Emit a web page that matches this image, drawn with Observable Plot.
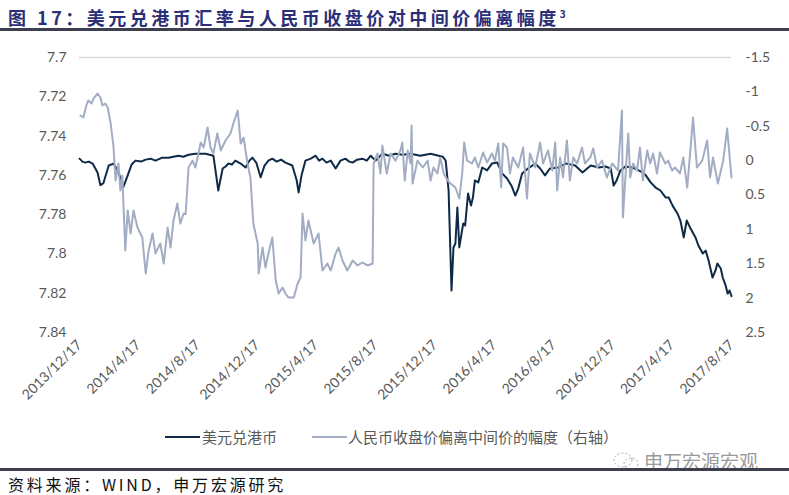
<!DOCTYPE html>
<html><head><meta charset="utf-8">
<script src="https://cdn.jsdelivr.net/npm/d3@7"></script>
<script src="https://cdn.jsdelivr.net/npm/@observablehq/plot@0.6"></script>
<style>
html,body{margin:0;padding:0;background:#fff;}
#wrap{position:relative;width:789px;height:495px;overflow:hidden;font-family:"Noto Sans CJK SC",sans-serif;}
#title{position:absolute;left:8px;top:2px;font-size:18px;line-height:24px;font-weight:bold;color:#2b2f78;letter-spacing:3.5px;white-space:nowrap;}
#title sup{font-size:10px;letter-spacing:0;}
.rule{position:absolute;left:0;width:789px;background:#3d3f4f;}
#chart{position:absolute;left:0;top:35px;}
#legend{position:absolute;top:426px;left:0;width:789px;height:22px;font-size:15px;line-height:22px;color:#595959;}
.sw{position:absolute;top:10px;height:2px;width:35px;}
.lt{position:absolute;top:0;white-space:nowrap;}
#wm{position:absolute;left:612px;top:450px;font-size:19px;line-height:22px;color:#9a9a9a;white-space:nowrap;}
#src{position:absolute;left:8px;top:474px;font-size:16px;line-height:20px;color:#111;letter-spacing:2.8px;white-space:nowrap;}
</style></head>
<body><div id="wrap">
<div id="title">图 17：美元兑港币汇率与人民币收盘价对中间价偏离幅度<sup>3</sup></div>
<div class="rule" style="top:28px;height:3px;"></div>
<div id="chart"></div>
<div id="legend">
  <div class="sw" style="left:165px;background:#0e2a47;"></div><div class="lt" style="left:202px;">美元兑港币</div>
  <div class="sw" style="left:312px;background:#a2acc2;"></div><div class="lt" style="left:348px;">人民币收盘价偏离中间价的幅度（右轴）</div>
</div>
<div id="wm"><svg width="28" height="22" style="vertical-align:-3px;margin-right:4px"><ellipse cx="11" cy="10" rx="9" ry="7" fill="none" stroke="#aaa" stroke-dasharray="2 2"/><ellipse cx="19" cy="14" rx="7" ry="6" fill="none" stroke="#aaa" stroke-dasharray="2 2"/></svg>申万宏源宏观</div>
<div class="rule" style="top:468px;height:3px;"></div>
<div id="src">资料来源：WIND，申万宏源研究</div>
</div>
<script>
// 美元兑港币 (left axis)
const hkd = [
["2013-12-17",7.7515],["2013-12-23",7.7530],["2013-12-29",7.7535],["2014-01-05",7.7530],["2014-01-13",7.754],["2014-01-23",7.7585],["2014-01-29",7.765],["2014-02-04",7.764],
["2014-02-15",7.755],["2014-02-25",7.754],["2014-03-07",7.7585],["2014-03-17",7.766],["2014-03-26",7.760],["2014-04-03",7.7545],["2014-04-11",7.7525],
["2014-04-22",7.7530],["2014-05-02",7.752],["2014-05-12",7.7515],["2014-05-22",7.7525],["2014-06-05",7.751],["2014-06-18",7.751],["2014-06-28",7.7505],["2014-07-08",7.750],["2014-07-18",7.7505],["2014-07-29",7.7495],
["2014-08-12",7.749],["2014-09-02",7.749],["2014-09-18",7.750],["2014-09-28",7.7677],["2014-10-07",7.7565],["2014-10-13",7.7555],["2014-10-19",7.754],["2014-10-26",7.7545],
["2014-11-02",7.7525],["2014-11-13",7.754],["2014-11-23",7.756],["2014-12-01",7.7525],["2014-12-07",7.751],["2014-12-15",7.7535],["2014-12-24",7.761],
["2015-01-01",7.755],["2015-01-09",7.7525],["2015-01-17",7.7515],["2015-01-26",7.7530],["2015-02-04",7.7520],["2015-02-13",7.7535],["2015-02-27",7.755],["2015-03-08",7.7625],["2015-03-12",7.7687],
["2015-03-18",7.760],["2015-03-26",7.7525],["2015-04-06",7.7515],["2015-04-16",7.750],["2015-04-23",7.7525],["2015-04-30",7.7515],["2015-05-08",7.7535],["2015-05-17",7.7525],["2015-05-27",7.7565],
["2015-06-06",7.7525],["2015-06-16",7.7515],["2015-06-24",7.7530],["2015-07-01",7.7535],["2015-07-10",7.7520],["2015-07-21",7.7515],["2015-07-30",7.7525],["2015-08-07",7.750],["2015-08-17",7.7525],
["2015-08-31",7.749],["2015-09-14",7.7500],["2015-09-27",7.749],["2015-10-12",7.7495],["2015-10-28",7.749],["2015-11-17",7.750],["2015-12-08",7.749],["2016-01-02",7.7505],
["2016-01-08",7.7525],["2016-01-14",7.7677],["2016-01-20",7.8186],["2016-01-24",7.7967],["2016-01-28",7.7947],["2016-02-01",7.7764],
["2016-02-05",7.7967],["2016-02-09",7.7906],["2016-02-13",7.7845],["2016-02-17",7.7855],["2016-02-23",7.7692],["2016-02-29",7.7754],
["2016-03-04",7.7713],["2016-03-08",7.7626],["2016-03-15",7.7636],["2016-03-23",7.756],["2016-04-02",7.7575],["2016-04-12",7.754],
["2016-04-23",7.7535],["2016-05-03",7.759],["2016-05-13",7.7616],["2016-05-23",7.7657],["2016-05-30",7.7703],["2016-06-05",7.7667],
["2016-06-13",7.759],["2016-06-25",7.7565],["2016-07-10",7.754],["2016-07-20",7.7565],["2016-07-30",7.760],["2016-08-09",7.7565],
["2016-08-26",7.756],["2016-09-11",7.754],["2016-09-30",7.755],["2016-10-15",7.7585],["2016-11-01",7.755],["2016-11-17",7.756],
["2016-12-01",7.7555],["2016-12-12",7.7565],["2016-12-18",7.7652],["2016-12-24",7.7626],["2017-01-01",7.7575],["2017-01-11",7.7555],
["2017-01-26",7.756],["2017-02-07",7.7575],["2017-02-15",7.7585],["2017-02-22",7.760],["2017-03-04",7.7636],["2017-03-14",7.7662],
["2017-03-24",7.7677],["2017-04-04",7.7713],["2017-04-10",7.7713],["2017-04-18",7.7754],["2017-04-28",7.7794],["2017-05-04",7.783],
["2017-05-11",7.7916],["2017-05-17",7.783],["2017-05-25",7.7871],["2017-06-04",7.7916],["2017-06-10",7.7957],["2017-06-19",7.7998],
["2017-06-25",7.7983],["2017-07-01",7.8034],["2017-07-09",7.812],["2017-07-15",7.8085],["2017-07-19",7.8049],["2017-07-26",7.8074],
["2017-07-30",7.812],["2017-08-05",7.8161],["2017-08-09",7.8202],["2017-08-13",7.8186],["2017-08-17",7.8215]
];
// 人民币收盘价偏离中间价的幅度 (right axis)
const cny = [
["2013-12-19",-0.656],["2013-12-25",-0.627],["2013-12-31",-0.802],["2014-01-04",-0.875],["2014-01-11",-0.831],["2014-01-15",-0.904],
["2014-01-23",-0.976],["2014-01-29",-0.918],["2014-02-02",-0.802],["2014-02-08",-0.831],["2014-02-13",-0.773],["2014-02-19",-0.54],
["2014-02-25",-0.191],["2014-03-01",0.289],["2014-03-07",0.042],["2014-03-11",0.435],["2014-03-15",0.216],["2014-03-21",1.307],
["2014-03-26",0.725],["2014-04-01",1.06],["2014-04-07",0.725],["2014-04-15",0.973],["2014-04-25",1.118],["2014-05-02",1.642],
["2014-05-08",1.307],["2014-05-16",1.06],["2014-05-22",1.351],["2014-06-01",1.205],["2014-06-08",1.496],["2014-06-16",0.973],
["2014-06-22",1.264],["2014-06-28",0.871],["2014-07-06",0.624],["2014-07-12",0.915],["2014-07-19",0.769],["2014-07-23",0.78],
["2014-07-29",0.1],["2014-08-06",0.0],["2014-08-12",0.1],["2014-08-23",-0.264],["2014-08-29",-0.191],["2014-09-06",-0.482],
["2014-09-12",-0.191],["2014-09-18",-0.104],["2014-09-26",-0.395],["2014-10-03",-0.147],["2014-10-13",-0.293],["2014-10-23",-0.395],
["2014-10-29",-0.54],["2014-11-07",-0.729],["2014-11-13",-0.249],["2014-11-19",-0.336],["2014-11-27",0.042],["2014-12-03",0.245],
["2014-12-09",0.915],["2014-12-18",1.205],["2014-12-20",1.642],["2014-12-28",1.264],["2015-01-03",1.555],["2015-01-09",1.351],
["2015-01-17",1.118],["2015-01-24",1.744],["2015-01-30",1.933],["2015-02-07",1.845],["2015-02-13",1.933],["2015-02-19",1.991],
["2015-03-02",1.991],["2015-03-10",1.787],["2015-03-16",1.70],["2015-03-20",0.769],["2015-03-26",1.162],["2015-04-01",0.871],
["2015-04-12",1.205],["2015-04-22",1.06],["2015-04-30",1.598],["2015-05-10",1.496],["2015-05-17",1.598],["2015-05-27",1.351],
["2015-06-02",1.264],["2015-06-10",1.453],["2015-06-20",1.598],["2015-07-01",1.453],["2015-07-11",1.525],["2015-07-21",1.482],
["2015-08-01",1.525],["2015-08-11",1.496],["2015-08-13",0.042],["2015-08-21",-0.104],["2015-08-27",0.187],["2015-08-31",-0.22],
["2015-09-09",0.187],["2015-09-17",-0.104],["2015-09-27",0.0],["2015-10-07",-0.147],["2015-10-11",-0.264],["2015-10-16",0.289],
["2015-10-22",-0.147],["2015-10-28",0.042],["2015-10-30",-0.511],["2015-11-01",0.333],["2015-11-11",0.0],["2015-11-22",0.1],
["2015-12-02",0.0],["2015-12-08",0.289],["2015-12-14",0.1],["2015-12-22",0.187],["2015-12-28",-0.045],["2016-01-04",0.187],
["2016-01-12",0.289],["2016-01-18",0.333],["2016-01-28",0.391],["2016-02-05",0.551],["2016-02-11",0.187],["2016-02-15",-0.264],
["2016-02-21",0.0],["2016-03-02",0.042],["2016-03-08",-0.045],["2016-03-15",0.1],["2016-03-25",-0.118],["2016-04-02",0.027],
["2016-04-12",-0.104],["2016-04-18",0.0],["2016-04-25",-0.249],["2016-05-01",0.391],["2016-05-05",-0.249],["2016-05-13",-0.191],
["2016-05-19",0.187],["2016-05-25",-0.045],["2016-06-05",0.1],["2016-06-15",-0.191],["2016-06-23",0.551],["2016-06-29",-0.104],
["2016-07-10",0.1],["2016-07-20",-0.264],["2016-07-26",0.042],["2016-08-05",-0.147],["2016-08-14",0.144],["2016-08-20",-0.264],
["2016-08-24",0.435],["2016-08-30",-0.045],["2016-09-05",0.245],["2016-09-13",-0.293],["2016-09-19",0.289],["2016-09-26",-0.045],
["2016-10-04",0.042],["2016-10-14",-0.191],["2016-10-20",0.042],["2016-10-31",-0.045],["2016-11-06",-0.176],["2016-11-14",0.1],
["2016-11-24",0.0],["2016-12-04",0.245],["2016-12-15",0.042],["2016-12-27",0.144],["2017-01-04",-0.729],["2017-01-06",0.827],
["2017-01-15",-0.191],["2017-01-17",-0.395],["2017-01-21",0.245],["2017-01-27",0.042],["2017-02-04",0.144],["2017-02-10",-0.191],
["2017-02-16",0.289],["2017-02-25",-0.147],["2017-03-03",0.042],["2017-03-09",-0.104],["2017-03-17",0.187],["2017-03-23",-0.118],
["2017-04-03",0.042],["2017-04-09",0.0],["2017-04-17",0.144],["2017-04-23",0.1],["2017-05-03",0.187],["2017-05-10",-0.045],
["2017-05-18",0.391],["2017-05-24",-0.104],["2017-05-30",-0.627],["2017-06-07",0.1],["2017-06-18",0.0],["2017-06-28",-0.293],
["2017-07-04",0.245],["2017-07-10",-0.045],["2017-07-20",0.333],["2017-07-31",0.0],["2017-08-08",-0.467],["2017-08-17",0.245]
];
const xTicks = ["2013-12-17","2014-04-17","2014-08-17","2014-12-17","2015-04-17","2015-08-17","2015-12-17","2016-04-17","2016-08-17","2016-12-17","2017-04-17","2017-08-17"];
const leftTicks = [7.7,7.72,7.74,7.76,7.78,7.8,7.82,7.84];
const rightTicks = [-1.5,-1,-0.5,0,0.5,1,1.5,2,2.5];

const parse = d3.utcParse("%Y-%m-%d");
const L0 = 7.7, L1 = 7.84, R0 = -1.5, R1 = 2.5;
const toLeft = v => L0 + (v - R0) * (L1 - L0) / (R1 - R0);
const fromLeft = v => R0 + (v - L0) * (R1 - R0) / (L1 - L0);
const hkdData = hkd.map(([d, v]) => ({date: parse(d), v}));
const cnyData = cny.map(([d, v]) => ({date: parse(d), v: toLeft(v)}));
const fmtDate = d => `${d.getUTCFullYear()}/${d.getUTCMonth()+1}/${d.getUTCDate()}`;

const chart = Plot.plot({
  width: 789, height: 390,
  marginTop: 22, marginBottom: 93, marginLeft: 79, marginRight: 58,
  style: {fontFamily: "Lato, sans-serif", fontSize: "14px", color: "#595959", background: "#fff"},
  x: {type: "utc", domain: [parse(xTicks[0]), parse(xTicks[xTicks.length-1])]},
  y: {domain: [L1, L0]},
  marks: [
    Plot.ruleY([L0], {stroke: "#d9d9d9", strokeWidth: 1.5}),
    Plot.axisY(leftTicks, {anchor: "left", tickSize: 0, tickPadding: 13, tickFormat: d => String(+d.toFixed(2)), label: null}),
    Plot.axisY(rightTicks.map(toLeft), {anchor: "right", tickSize: 0, tickPadding: 14, tickFormat: d => String(Math.round(fromLeft(d) * 10) / 10), label: null}),
    Plot.axisX(xTicks.map(parse), {anchor: "bottom", tickSize: 0, tickPadding: 10, tickRotate: -45, tickFormat: fmtDate, label: null}),
    Plot.line(hkdData, {x: "date", y: "v", stroke: "#0e2a47", strokeWidth: 2}),
    Plot.line(cnyData, {x: "date", y: "v", stroke: "#a2acc2", strokeWidth: 2})
  ]
});
document.getElementById("chart").appendChild(chart);
</script>
</body></html>
